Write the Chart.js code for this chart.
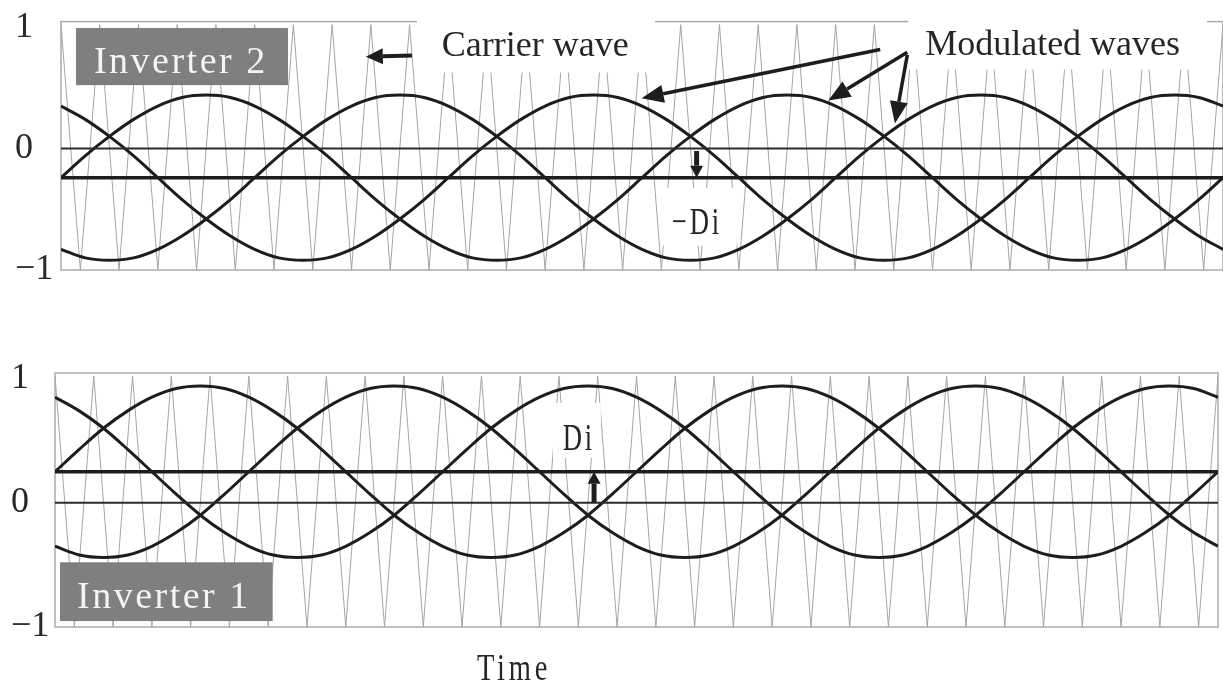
<!DOCTYPE html>
<html>
<head>
<meta charset="utf-8">
<title>Carrier and modulated waves of two inverters</title>
<script src="https://cdn.jsdelivr.net/npm/chart.js@4.4.1/dist/chart.umd.min.js"></script>
<style>
  html, body { margin: 0; padding: 0; background: #fff; }
  body { width: 1223px; height: 684px; position: relative; overflow: hidden; }
  .panel { position: absolute; left: 0; width: 1223px; }
  #top { top: 0; height: 300px; }
  #bottom { top: 340px; height: 344px; }
</style>
</head>
<body>
<div class="panel" id="top"><canvas id="inv2"></canvas></div>
<div class="panel" id="bottom"><canvas id="inv1"></canvas></div>
<script>
// time is counted in carrier periods: 30 carrier cycles = 2 cycles of the modulated waves
const carrierTime = [
  0, 0.5, 1, 1.5, 2, 2.5, 3, 3.5, 4, 4.5, 5, 5.5, 6, 6.5, 7, 7.5, 8, 8.5, 9, 9.5,
  10, 10.5, 11, 11.5, 12, 12.5, 13, 13.5, 14, 14.5, 15, 15.5, 16, 16.5, 17, 17.5, 18, 18.5, 19, 19.5,
  20, 20.5, 21, 21.5, 22, 22.5, 23, 23.5, 24, 24.5, 25, 25.5, 26, 26.5, 27, 27.5, 28, 28.5, 29, 29.5, 30
];
const carrierLevel = [
  1.02, -1, 1.02, -1, 1.02, -1, 1.02, -1, 1.02, -1,
  1.02, -1, 1.02, -1, 1.02, -1, 1.02, -1, 1.02, -1,
  1.02, -1, 1.02, -1, 1.02, -1, 1.02, -1, 1.02, -1,
  1.02, -1, 1.02, -1, 1.02, -1, 1.02, -1, 1.02, -1,
  1.02, -1, 1.02, -1, 1.02, -1, 1.02, -1, 1.02, -1,
  1.02, -1, 1.02, -1, 1.02, -1, 1.02, -1, 1.02, -1,
  1.02
];

const waveTime = [
  0, 0.625, 1.25, 1.875, 2.5, 3.125, 3.75, 4.375, 5, 5.625, 6.25, 6.875,
  7.5, 8.125, 8.75, 9.375, 10, 10.625, 11.25, 11.875, 12.5, 13.125, 13.75, 14.375,
  15, 15.625, 16.25, 16.875, 17.5, 18.125, 18.75, 19.375, 20, 20.625, 21.25, 21.875,
  22.5, 23.125, 23.75, 24.375, 25, 25.625, 26.25, 26.875, 27.5, 28.125, 28.75, 29.375,
  30
];

// Inverter 2 (top): modulated waves shifted down by Di
const inv2PhaseA = [
  -0.24, -0.06, 0.10, 0.24, 0.35, 0.42, 0.44, 0.42, 0.35, 0.24, 0.10, -0.06,
  -0.24, -0.42, -0.58, -0.72, -0.83, -0.90, -0.92, -0.90, -0.83, -0.72, -0.58, -0.42,
  -0.24, -0.06, 0.10, 0.24, 0.35, 0.42, 0.44, 0.42, 0.35, 0.24, 0.10, -0.06,
  -0.24, -0.42, -0.58, -0.72, -0.83, -0.90, -0.92, -0.90, -0.83, -0.72, -0.58, -0.42,
  -0.24
];
const inv2PhaseB = [
  -0.83, -0.90, -0.92, -0.90, -0.83, -0.72, -0.58, -0.42, -0.24, -0.06, 0.10, 0.24,
  0.35, 0.42, 0.44, 0.42, 0.35, 0.24, 0.10, -0.06, -0.24, -0.42, -0.58, -0.72,
  -0.83, -0.90, -0.92, -0.90, -0.83, -0.72, -0.58, -0.42, -0.24, -0.06, 0.10, 0.24,
  0.35, 0.42, 0.44, 0.42, 0.35, 0.24, 0.10, -0.06, -0.24, -0.42, -0.58, -0.72,
  -0.83
];
const inv2PhaseC = [
  0.35, 0.24, 0.10, -0.06, -0.24, -0.42, -0.58, -0.72, -0.83, -0.90, -0.92, -0.90,
  -0.83, -0.72, -0.58, -0.42, -0.24, -0.06, 0.10, 0.24, 0.35, 0.42, 0.44, 0.42,
  0.35, 0.24, 0.10, -0.06, -0.24, -0.42, -0.58, -0.72, -0.83, -0.90, -0.92, -0.90,
  -0.83, -0.72, -0.58, -0.42, -0.24, -0.06, 0.10, 0.24, 0.35, 0.42, 0.44, 0.42,
  0.35
];

// Inverter 1 (bottom): modulated waves shifted up by Di
const inv1PhaseA = [
  0.25, 0.43, 0.60, 0.74, 0.85, 0.92, 0.94, 0.92, 0.85, 0.74, 0.60, 0.43,
  0.25, 0.07, -0.10, -0.24, -0.35, -0.42, -0.44, -0.42, -0.35, -0.24, -0.10, 0.07,
  0.25, 0.43, 0.60, 0.74, 0.85, 0.92, 0.94, 0.92, 0.85, 0.74, 0.60, 0.43,
  0.25, 0.07, -0.10, -0.24, -0.35, -0.42, -0.44, -0.42, -0.35, -0.24, -0.10, 0.07,
  0.25
];
const inv1PhaseB = [
  -0.35, -0.42, -0.44, -0.42, -0.35, -0.24, -0.10, 0.07, 0.25, 0.43, 0.60, 0.74,
  0.85, 0.92, 0.94, 0.92, 0.85, 0.74, 0.60, 0.43, 0.25, 0.07, -0.10, -0.24,
  -0.35, -0.42, -0.44, -0.42, -0.35, -0.24, -0.10, 0.07, 0.25, 0.43, 0.60, 0.74,
  0.85, 0.92, 0.94, 0.92, 0.85, 0.74, 0.60, 0.43, 0.25, 0.07, -0.10, -0.24,
  -0.35
];
const inv1PhaseC = [
  0.85, 0.74, 0.60, 0.43, 0.25, 0.07, -0.10, -0.24, -0.35, -0.42, -0.44, -0.42,
  -0.35, -0.24, -0.10, 0.07, 0.25, 0.43, 0.60, 0.74, 0.85, 0.92, 0.94, 0.92,
  0.85, 0.74, 0.60, 0.43, 0.25, 0.07, -0.10, -0.24, -0.35, -0.42, -0.44, -0.42,
  -0.35, -0.24, -0.10, 0.07, 0.25, 0.43, 0.60, 0.74, 0.85, 0.92, 0.94, 0.92,
  0.85
];

const lineEnds = [0, 30];
const zeroLevel = [0, 0];
const inv2Offset = [-0.24, -0.24];  // -Di
const inv1Offset = [0.25, 0.25];    // Di
const yTicks = [-1, 0, 1];

const SERIF = '"Liberation Serif", "DejaVu Serif", serif';
const INK = '#1d1d1d';

const pts = (xs, ys) => xs.map((x, i) => ({ x: x, y: ys[i] }));

function arrow(ctx, x1, y1, x2, y2, w, headLen, headW) {
  const a = Math.atan2(y2 - y1, x2 - x1);
  const bx = x2 - headLen * Math.cos(a), by = y2 - headLen * Math.sin(a);
  ctx.lineWidth = w;
  ctx.beginPath();
  ctx.moveTo(x1, y1);
  ctx.lineTo(bx, by);
  ctx.stroke();
  ctx.beginPath();
  ctx.moveTo(x2, y2);
  ctx.lineTo(bx + headW * Math.sin(a), by - headW * Math.cos(a));
  ctx.lineTo(bx - headW * Math.sin(a), by + headW * Math.cos(a));
  ctx.closePath();
  ctx.fill();
}

// frame, white label backings, grey name tags, texts and arrows
const markPlugin = {
  id: 'marks',
  beforeDatasetsDraw(chart, args, opts) {
    const { ctx, chartArea: a } = chart;
    ctx.save();
    ctx.strokeStyle = '#ababab';
    ctx.lineWidth = 1.5;
    ctx.strokeRect(a.left, a.top, a.right - a.left, a.bottom - a.top);
    ctx.restore();
  },
  afterDatasetDraw(chart, args, opts) {
    if (args.index !== opts.carrierIndex) return;
    const { ctx, scales: { x, y } } = chart;
    ctx.save();
    ctx.fillStyle = '#fff';
    (opts.masks || []).forEach(m => {
      const l = x.getPixelForValue(m.x0), r = x.getPixelForValue(m.x1);
      const t = y.getPixelForValue(m.y0), b = y.getPixelForValue(m.y1);
      ctx.fillRect(l, t, r - l, b - t);
    });
    ctx.restore();
  },
  afterDatasetsDraw(chart, args, opts) {
    const { ctx, scales: { x, y } } = chart;
    ctx.save();
    (opts.tags || []).forEach(g => {
      const l = x.getPixelForValue(g.x0), r = x.getPixelForValue(g.x1);
      const t = y.getPixelForValue(g.y0), b = y.getPixelForValue(g.y1);
      ctx.fillStyle = '#7f7f82';
      ctx.fillRect(l, t, r - l, b - t);
      ctx.fillStyle = '#f4f4f4';
      ctx.font = '38px ' + SERIF;
      ctx.letterSpacing = '2.5px';
      ctx.textAlign = 'left';
      ctx.textBaseline = 'alphabetic';
      ctx.fillText(g.text, x.getPixelForValue(g.tx), y.getPixelForValue(g.ty));
    });
    (opts.labels || []).forEach(t => {
      ctx.save();
      ctx.fillStyle = '#262626';
      ctx.font = (t.size || 36) + 'px ' + SERIF;
      ctx.letterSpacing = (t.spacing || 0) + 'px';
      ctx.textAlign = t.align || 'left';
      ctx.textBaseline = 'alphabetic';
      ctx.translate(x.getPixelForValue(t.x), y.getPixelForValue(t.y));
      ctx.scale(t.squeeze || 1, 1);
      ctx.fillText(t.text, 0, 0);
      ctx.restore();
    });
    ctx.strokeStyle = INK;
    ctx.fillStyle = INK;
    ctx.lineCap = 'butt';
    (opts.arrows || []).forEach(p => {
      arrow(ctx, x.getPixelForValue(p.from[0]), y.getPixelForValue(p.from[1]),
        x.getPixelForValue(p.to[0]), y.getPixelForValue(p.to[1]), p.w, p.head, p.half);
    });
    ctx.restore();
  }
};

function makeChart(id, waves, offset, marks, pad, axisWidth) {
  const sine = data => ({
    data: pts(waveTime, data), borderColor: INK, borderWidth: 3,
    pointRadius: 0, cubicInterpolationMode: 'monotone'
  });
  return new Chart(document.getElementById(id), {
    type: 'line',
    data: {
      datasets: [
        { data: pts(lineEnds, offset), borderColor: INK, borderWidth: 3.5, pointRadius: 0 },
        { data: pts(lineEnds, zeroLevel), borderColor: '#2b2b2b', borderWidth: 2, pointRadius: 0 },
        sine(waves[0]),
        sine(waves[1]),
        sine(waves[2]),
        { data: pts(carrierTime, carrierLevel), borderColor: '#a5a5a5', borderWidth: 1, pointRadius: 0, tension: 0 }
      ]
    },
    options: {
      responsive: true,
      maintainAspectRatio: false,
      animation: false,
      devicePixelRatio: 1,
      layout: { padding: pad },
      plugins: {
        legend: { display: false },
        tooltip: { enabled: false },
        marks: Object.assign({ carrierIndex: 5 }, marks)
      },
      scales: {
        x: { type: 'linear', min: 0, max: 30, display: false },
        y: {
          min: -1,
          max: 1.045,
          grid: { display: false, drawTicks: false },
          border: { display: false },
          afterFit: s => { s.width = axisWidth; },
          afterBuildTicks: s => { s.ticks = yTicks.map(v => ({ value: v })); },
          ticks: {
            crossAlign: 'far',
            padding: 0,
            autoSkip: false,
            color: '#2a2a2a',
            font: { family: SERIF, size: 36 },
            callback: v => v < 0 ? '\u2212' + (-v) : String(v)
          }
        }
      }
    },
    plugins: [markPlugin]
  });
}

makeChart('inv2', [inv2PhaseA, inv2PhaseB, inv2PhaseC], inv2Offset, {
  masks: [
    { x0: 9.19, x1: 15.34, y0: 1.25, y1: 0.626 },
    { x0: 21.87, x1: 29.59, y0: 1.25, y1: 0.65 },
    { x0: 15.47, x1: 17.45, y0: -0.325, y1: -0.80 }
  ],
  tags: [
    { x0: 0.387, x1: 5.86, y0: 0.992, y1: 0.522, text: 'Inverter 2', tx: 0.85, ty: 0.624 }
  ],
  labels: [
    { text: 'Carrier wave', x: 9.83, y: 0.758 },
    { text: 'Modulated waves', x: 22.31, y: 0.771 },
    { text: '\u2212Di', x: 15.77, y: -0.706, size: 38, squeeze: 0.7, spacing: 4 }
  ],
  arrows: [
    { from: [9.06, 0.766], to: [7.87, 0.755], w: 4, head: 17, half: 8 },
    { from: [21.15, 0.816], to: [14.99, 0.414], w: 3.5, head: 22, half: 9 },
    { from: [21.85, 0.792], to: [19.81, 0.395], w: 3.5, head: 22, half: 9 },
    { from: [21.85, 0.771], to: [21.53, 0.207], w: 3.5, head: 22, half: 9 },
    { from: [16.41, -0.02], to: [16.41, -0.24], w: 5, head: 12, half: 6.5 }
  ]
}, { top: 16, bottom: 30, left: 15, right: 0 }, 46);

makeChart('inv1', [inv1PhaseA, inv1PhaseB, inv1PhaseC], inv1Offset, {
  masks: [
    { x0: 12.845, x1: 14.08, y0: 0.804, y1: 0.361 }
  ],
  tags: [
    { x0: 0.129, x1: 5.615, y0: -0.479, y1: -0.952, text: 'Inverter 1', tx: 0.567, ty: -0.849 }
  ],
  labels: [
    { text: 'Di', x: 13.1, y: 0.425, size: 38, squeeze: 0.7, spacing: 4 },
    { text: 'Time', x: 11.84, y: -1.427, size: 38, squeeze: 0.75, spacing: 5, align: 'center' }
  ],
  arrows: [
    { from: [13.905, 0.0], to: [13.905, 0.25], w: 5, head: 12, half: 6.5 }
  ]
}, { top: 33, bottom: 57, left: 11, right: 5 }, 44);
</script>
</body>
</html>
